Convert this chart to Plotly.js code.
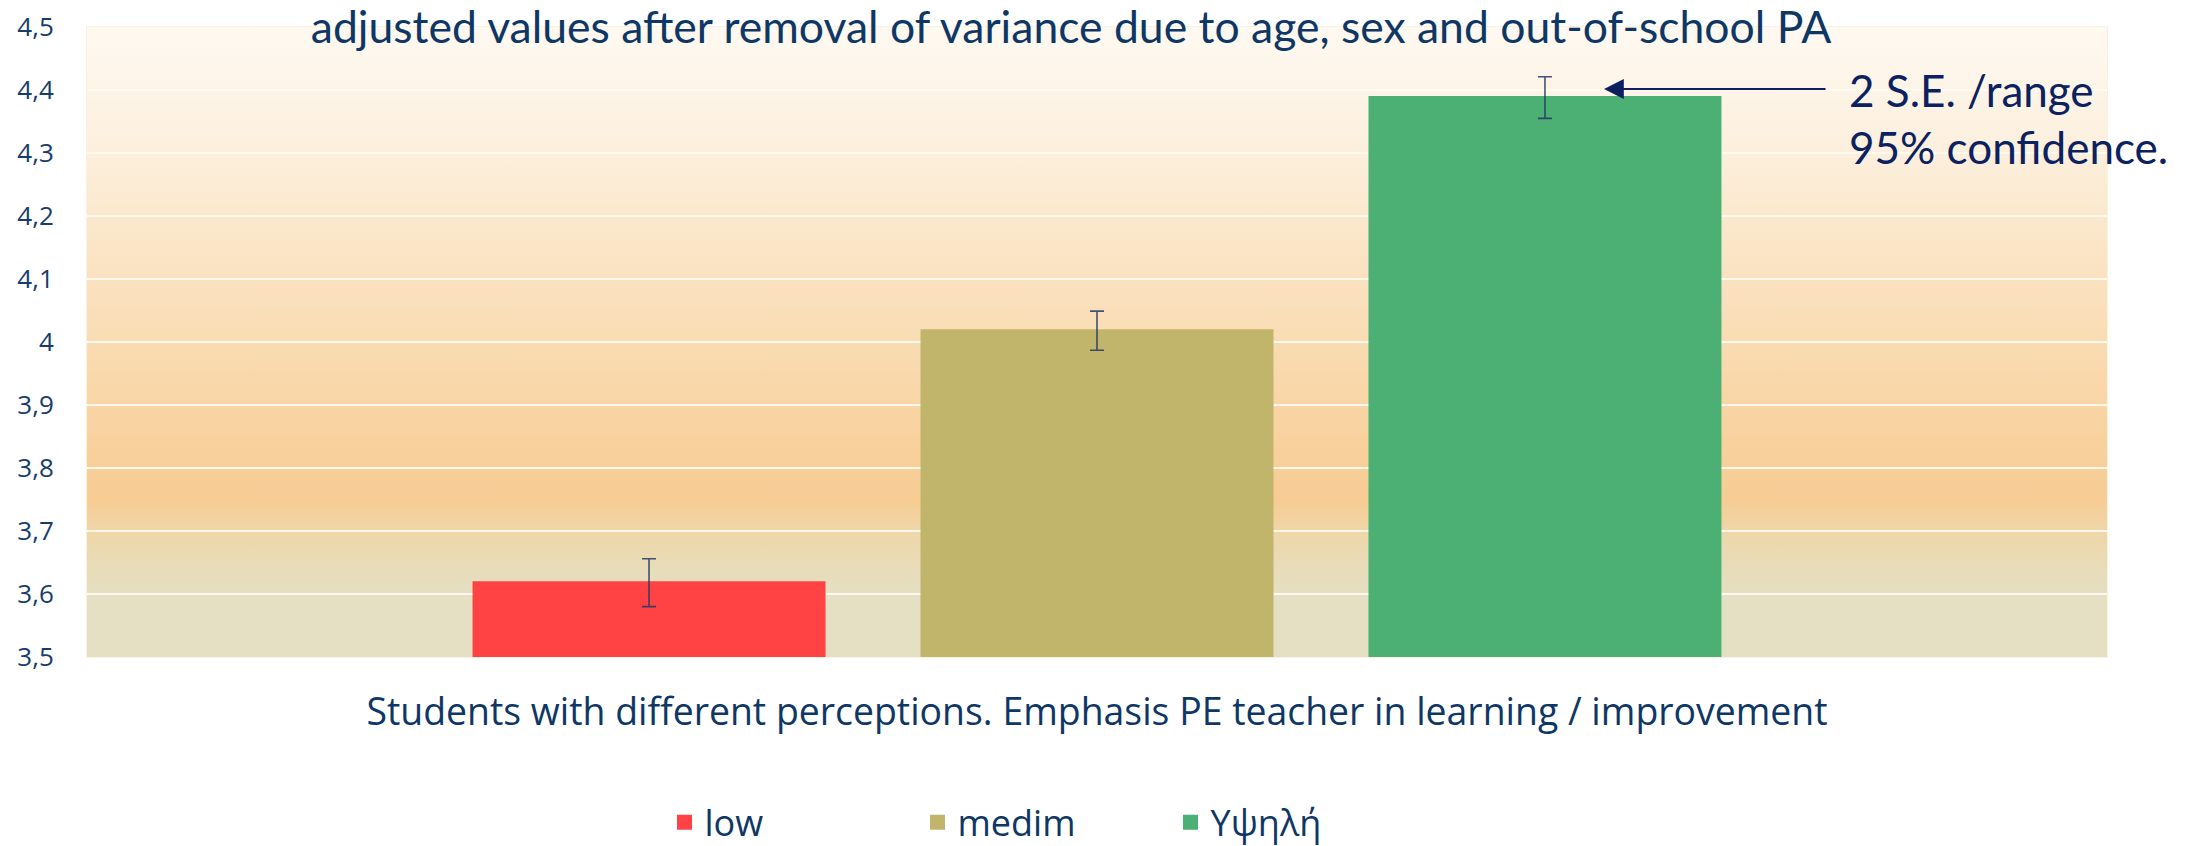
<!DOCTYPE html>
<html>
<head>
<meta charset="utf-8">
<script src="https://cdn.plot.ly/plotly-3.0.1.min.js"></script>
<style>html,body{margin:0;padding:0;background:#fff;}</style>
</head>
<body>
<div id="chart" style="width:2197px;height:846px;"></div>
<script>
// ---- data ----
const category = ['Emphasis PE teacher'];
const seriesNames = ['low', 'medim', 'Υψηλή'];
const lowValues = [3.618];
const medimValues = [4.018];
const highValues = [4.388];
const lowErr = [0.038];
const medimErr = [0.031];
const highErr = [0.033];
const yTicks = [3.5, 3.6, 3.7, 3.8, 3.9, 4.0, 4.1, 4.2, 4.3, 4.4, 4.5];

const titleText = 'adjusted values after removal of variance due to age, sex and out-of-school PA';
const xTitleText = 'Students with different perceptions. Emphasis PE teacher in learning / improvement';
const noteText = '2 S.E. /range<br>95% confidence.';

const colors = ['#FF4345', '#C1B46B', '#4CB074'];
const humanist = 'Lato, "Open Sans", sans-serif';
const wide = '"Open Sans", "Noto Sans", sans-serif';

function barTrace(name, vals, err, color) {
  return {
    type: 'bar', name: name, x: category, y: vals,
    marker: {color: color, line: {color: color, width: 3}},
    error_y: {type: 'data', array: err, visible: true, color: 'rgba(35,55,100,0.85)', thickness: 1.6, width: 7},
    hoverinfo: 'skip'
  };
}

const traces = [
  barTrace(seriesNames[0], lowValues, lowErr, colors[0]),
  barTrace(seriesNames[1], medimValues, medimErr, colors[1]),
  barTrace(seriesNames[2], highValues, highErr, colors[2])
];

const gradSvg = '<svg xmlns="http://www.w3.org/2000/svg" width="100" height="100" viewBox="0 0 100 100" preserveAspectRatio="none">' +
  '<defs><linearGradient id="g" x1="0" y1="0" x2="0" y2="1">' +
  '<stop offset="0" stop-color="#FEF9F1"/>' +
  '<stop offset="0.2" stop-color="#FCEFDD"/>' +
  '<stop offset="0.3" stop-color="#FBE8CD"/>' +
  '<stop offset="0.5" stop-color="#F9DCB3"/>' +
  '<stop offset="0.66" stop-color="#F8D19D"/>' +
  '<stop offset="0.75" stop-color="#F6CC93"/>' +
  '<stop offset="0.8" stop-color="#EFD6A8"/>' +
  '<stop offset="0.86" stop-color="#E8DCB9"/>' +
  '<stop offset="0.9" stop-color="#E5DFC3"/>' +
  '<stop offset="1" stop-color="#E5DFC3"/>' +
  '</linearGradient></defs><rect width="100" height="100" fill="url(#g)"/></svg>';

const layout = {
  width: 2197, height: 846,
  margin: {l: 87, r: 90, t: 27, b: 189, pad: 0},
  paper_bgcolor: '#ffffff',
  plot_bgcolor: 'rgba(0,0,0,0)',
  separators: ',.',
  barmode: 'group',
  bargap: 0.3347,
  bargroupgap: 0.2188,
  showlegend: true,
  title: {
    text: titleText,
    font: {family: humanist, size: 44.5, color: '#0E3766'},
    xref: 'container', x: 0.4875, xanchor: 'center',
    yref: 'container', y: 0.9676, yanchor: 'middle'
  },
  xaxis: {
    type: 'category', range: [-0.5, 0.5],
    showticklabels: false, ticks: '', showgrid: false, zeroline: false,
    showline: true, linecolor: '#FBF1E1', linewidth: 1, mirror: true,
    fixedrange: true,
    title: {text: xTitleText, font: {family: wide, size: 37.4, color: '#0E3766'}, standoff: 41}
  },
  yaxis: {
    range: [3.5, 4.5], tickvals: yTicks, ticks: '',
    tickfont: {family: wide, size: 26, color: '#173D6D'},
    ticklabelstandoff: 27,
    showgrid: true, gridcolor: 'rgba(255,250,240,0.95)', gridwidth: 1.5,
    zeroline: false, showline: true, linecolor: '#FBF1E1', linewidth: 1, mirror: true,
    fixedrange: true
  },
  legend: {
    orientation: 'h', xref: 'container', yref: 'container',
    x: 0.4752, xanchor: 'center', y: 0.028, yanchor: 'middle',
    font: {family: wide, size: 36, color: '#0E3766'},
    entrywidth: 208, bgcolor: 'rgba(0,0,0,0)', tracegroupgap: 0
  },
  images: [{
    source: 'data:image/svg+xml;base64,' + btoa(gradSvg),
    xref: 'paper', yref: 'paper', x: 0, y: 1, sizex: 1, sizey: 1,
    xanchor: 'left', yanchor: 'top', sizing: 'stretch', layer: 'below'
  }],
  annotations: [
    {
      xref: 'paper', yref: 'paper', x: 0.751, y: 0.9016,
      text: '', showarrow: true, ax: 223, ay: 0,
      arrowhead: 2, arrowsize: 2.2, arrowwidth: 1.8, arrowcolor: '#0B1F5E'
    },
    {
      xref: 'paper', yref: 'paper', x: 0.8713, y: 0.854,
      xanchor: 'left', yanchor: 'middle', align: 'left',
      text: noteText, showarrow: false,
      font: {family: humanist, size: 44, color: '#0B2160'}
    }
  ]
};

Plotly.newPlot('chart', traces, layout, {staticPlot: true, displayModeBar: false});
</script>
</body>
</html>
